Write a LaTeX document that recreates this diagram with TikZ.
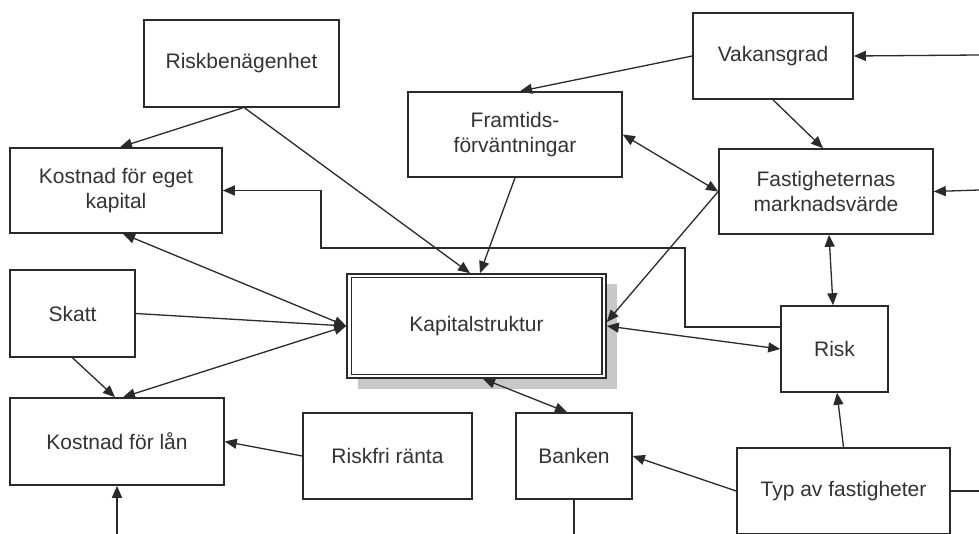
\documentclass[tikz,border=0pt]{standalone}
\usepackage{fontspec}
\setmainfont{Liberation Sans}
\usetikzlibrary{arrows.meta}
\definecolor{linec}{HTML}{2A2A2A}
\definecolor{textc}{HTML}{333333}
\definecolor{shadowc}{HTML}{C8C8C8}
\tikzset{
  box/.style={draw=linec, line width=1.6pt, fill=white, inner sep=0pt, text=textc,
    align=center, font=\fontsize{21}{25}\selectfont},
  arr/.style={draw=linec, line width=1.3pt, -{Triangle[length=12pt,width=10pt]}},
  darr/.style={draw=linec, line width=1.3pt, {Triangle[length=12pt,width=10pt]}-{Triangle[length=12pt,width=10pt]}},
  plain/.style={draw=linec, line width=1.3pt}
}
\begin{document}
\begin{tikzpicture}[x=1pt,y=-1pt]
\useasboundingbox (0,0) rectangle (979,533);
\clip (0,0) rectangle (979,533);
\fill[white] (0,0) rectangle (979,533);

% shadow of Kapitalstruktur
\fill[shadowc] (358,284) rectangle (617,389);

% nodes
\node[box, minimum width=195pt, minimum height=87pt] (rb) at (241.5,63.5) {Riskbenägenhet};
\node[box, minimum width=212pt, minimum height=85pt] (keg) at (116,190.5) {Kostnad för eget\\kapital};
\node[box, minimum width=214pt, minimum height=85pt] (fr) at (515,134.5) {Framtids-\\förväntningar};
\node[box, minimum width=160pt, minimum height=86pt] (vak) at (773,56) {Vakansgrad};
\node[box, minimum width=214pt, minimum height=85pt] (fm) at (826,191.5) {Fastigheternas\\marknadsvärde};
\node[box, minimum width=125pt, minimum height=87pt] (sk) at (72.5,313.5) {Skatt};
\node[box, minimum width=214pt, minimum height=87pt] (kl) at (117,441.5) {Kostnad för lån};
\node[box, minimum width=169pt, minimum height=86pt] (rf) at (387.5,456) {Riskfri ränta};
\node[box, minimum width=259pt, minimum height=104pt] (ks) at (476.5,326) {Kapitalstruktur};
\draw[linec, line width=1.4pt] ([shift={(5pt,-4.5pt)}]ks.north west) rectangle ([shift={(-5pt,4.5pt)}]ks.south east);
\node[box, minimum width=107pt, minimum height=86pt] (risk) at (834.5,349) {Risk};
\node[box, minimum width=116pt, minimum height=86pt] (bk) at (574,456) {Banken};
\node[box, minimum width=213pt, minimum height=86pt] (typ) at (843.5,491) {Typ av fastigheter};

% free ends and bends
\coordinate (eR1) at (979,55);
\coordinate (eR2) at (979,190);
\coordinate (eR3) at (979,491);
\coordinate (eB1) at (117,540);
\coordinate (eB2) at (574,540);
\coordinate (c1) at (685,327);
\coordinate (c2) at (685,248);
\coordinate (c3) at (321,248);
\coordinate (c4) at (321,190.5);

% connectors
\draw[arr] ([xshift=1.5pt]rb.south) -- ([xshift=4pt]keg.north);
\draw[arr] ([xshift=3pt]rb.south) -- ([xshift=-6.5pt]ks.north);
\draw[arr] (fr.south) -- ([xshift=3.5pt]ks.north);
\draw[arr] (vak.west) -- ([xshift=5pt]fr.north);
\draw[arr] (vak.south) -- ([xshift=-3pt]fm.north);
\draw[darr] (fr.east) -- (fm.west);
\draw[arr] (fm.west) -- ([yshift=4pt]ks.east);
\draw[darr] ([xshift=3pt]fm.south) -- ([xshift=-1.5pt]risk.north);
\draw[darr] (ks.east) -- (risk.west);
\draw[arr] ([yshift=22pt]risk.west) -- (c1) -- (c2) -- (c3) -- (c4) -- (keg.east);
\draw[darr] ([xshift=7pt]keg.south) -- (ks.west);
\draw[arr] (sk.east) -- (ks.west);
\draw[darr] (ks.west) -- ([xshift=6pt]kl.north);
\draw[arr] (sk.south) -- ([xshift=-2pt]kl.north);
\draw[arr] (rf.west) -- (kl.east);
\draw[darr] ([xshift=6.5pt]ks.south) -- ([xshift=-7pt]bk.north);
\draw[arr] (typ.west) -- (bk.east);
\draw[arr] (typ.north) -- ([xshift=2.5pt]risk.south);
\draw[plain] (typ.east) -- (eR3);
\draw[arr] (eR1) -- (vak.east);
\draw[arr] (eR2) -- (fm.east);
\draw[arr] (eB1) -- (kl.south);
\draw[plain] (bk.south) -- (eB2);
\end{tikzpicture}
\end{document}
